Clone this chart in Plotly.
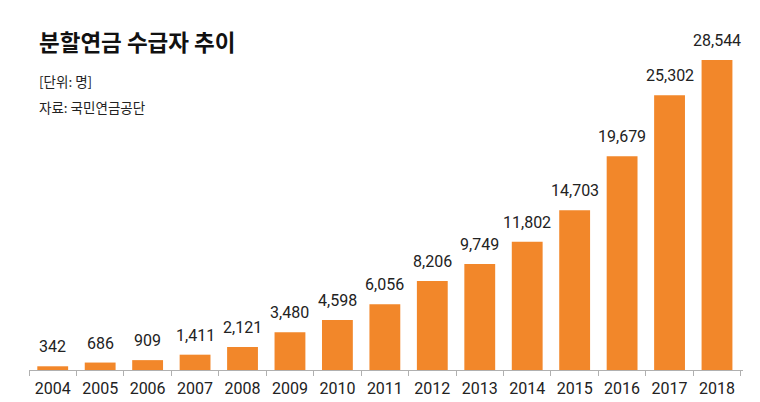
import plotly.graph_objects as go

years = ["2004", "2005", "2006", "2007", "2008", "2009", "2010", "2011",
         "2012", "2013", "2014", "2015", "2016", "2017", "2018"]
recipients = [342, 686, 909, 1411, 2121, 3480, 4598, 6056,
              8206, 9749, 11802, 14703, 19679, 25302, 28544]
labels = [f"{v:,}" for v in recipients]

title_text = "분할연금 수급자 추이"
unit_text = "[단위: 명]"
source_text = "자료: 국민연금공단"

W, H = 760, 402
ml, mr, mt, mb = 29, 17, 40, 32
plot_w = W - ml - mr
plot_h = H - mt - mb

fig = go.Figure(go.Bar(
    x=years, y=recipients,
    marker=dict(color="#F2872A", line=dict(width=0)),
    hoverinfo="skip",
))

def px_x(p):
    return (p - ml) / plot_w

def px_y(p):
    return (H - mb - p) / plot_h

# category axes place annotations by category index
annotations = [
    dict(x=i, y=v, text=lab, xref="x", yref="y",
         xanchor="center", yanchor="bottom", yshift=8, showarrow=False,
         font=dict(family="Roboto", size=16, color="#222222"))
    for i, (v, lab) in enumerate(zip(recipients, labels))
]
annotations += [
    dict(text=f"<b>{title_text}</b>", xref="paper", yref="paper",
         x=px_x(37), y=px_y(41), xanchor="left", yanchor="middle",
         showarrow=False,
         font=dict(family="Noto Sans CJK KR", size=22.5, color="#111111")),
    dict(text=unit_text, xref="paper", yref="paper",
         x=px_x(37), y=px_y(81), xanchor="left", yanchor="middle",
         showarrow=False,
         font=dict(family="Noto Sans CJK KR", size=13.5, color="#222222")),
    dict(text=source_text, xref="paper", yref="paper",
         x=px_x(37), y=px_y(107), xanchor="left", yanchor="middle",
         showarrow=False,
         font=dict(family="Noto Sans CJK KR", size=13.5, color="#222222")),
]

fig.update_layout(
    width=W, height=H,
    margin=dict(l=ml, r=mr, t=mt, b=mb, autoexpand=False),
    paper_bgcolor="white", plot_bgcolor="white",
    bargap=0.35,
    showlegend=False,
    xaxis=dict(
        type="category", automargin=False,
        showline=True, linecolor="#b0b0b0", linewidth=1,
        ticks="outside", tickson="boundaries", ticklen=5, tickcolor="#b0b0b0",
        ticklabelstandoff=4,
        tickfont=dict(family="Roboto", size=16, color="#222222"),
        showgrid=False, zeroline=False,
    ),
    yaxis=dict(
        range=[0, 28544 * plot_h / 310], visible=False,
        showgrid=False, zeroline=False, automargin=False,
    ),
    annotations=annotations,
)

fig.write_html("out.html", config=dict(displayModeBar=False),
               post_script="document.body.style.margin='0px';")
